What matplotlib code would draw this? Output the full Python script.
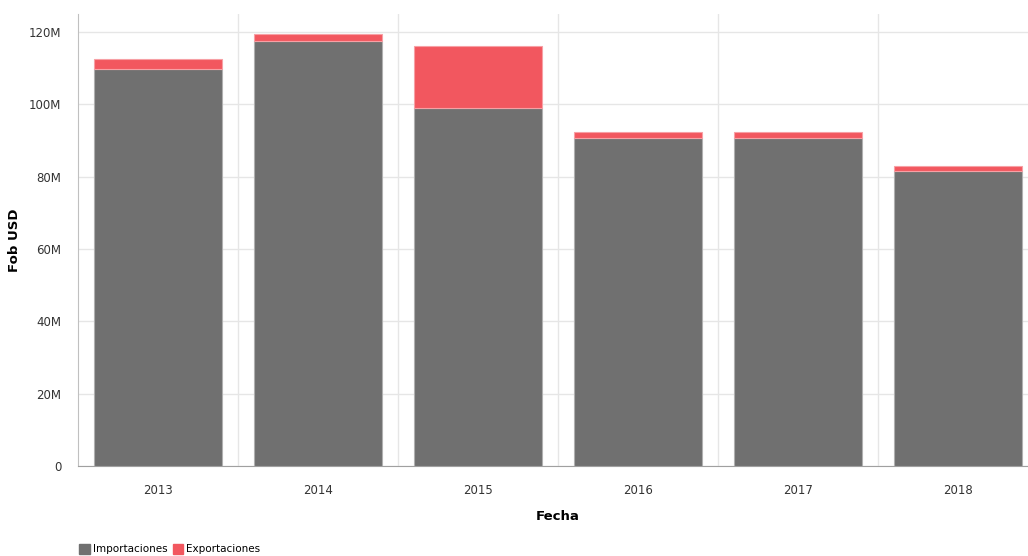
import matplotlib
matplotlib.use("Agg")
import matplotlib.pyplot as plt
from matplotlib.patches import Patch
from matplotlib.ticker import FuncFormatter

# datos (millones USD)
years = ["2013", "2014", "2015", "2016", "2017", "2018"]
importaciones = [109.8, 117.4, 99.1, 90.8, 90.8, 81.5]
exportaciones = [2.6, 2.1, 16.9, 1.6, 1.6, 1.4]

gray = "#707070"
red = "#f2575f"

fig = plt.figure(figsize=(10.28, 5.56), dpi=100)
# el area del grafico sigue un poco mas alla del borde derecho, como en el original
ax = fig.add_axes([0.0759, 0.162, 0.934, 0.813])

x = range(len(years))
ax.bar(x, importaciones, width=0.8, color=gray, edgecolor="#b0b0b0", linewidth=0.8, zorder=3)
ax.bar(x, exportaciones, width=0.8, bottom=importaciones, color=red,
       edgecolor="#f7a0a5", linewidth=0.8, zorder=3)

ax.set_xlim(-0.5, len(years) - 0.5)
ax.set_ylim(0, 125)
ax.set_yticks([0, 20, 40, 60, 80, 100, 120])
ax.yaxis.set_major_formatter(FuncFormatter(lambda v, p: "0" if v == 0 else f"{int(v)}M"))
ax.set_xticks(list(x))
ax.set_xticklabels(years)

# lineas verticales entre categorias
ax.set_xticks([i + 0.5 for i in range(len(years) - 1)], minor=True)
ax.grid(axis="x", which="minor", color="#e6e6e6", linewidth=1, zorder=0)
ax.grid(axis="y", which="major", color="#e6e6e6", linewidth=1, zorder=0)
ax.tick_params(axis="both", which="both", length=0, labelsize=8.5, colors="#333333")
ax.tick_params(axis="x", pad=13)
ax.tick_params(axis="y", pad=12)

for s in ["top", "right"]:
    ax.spines[s].set_visible(False)
ax.spines["left"].set_color("#c0c0c0")
ax.spines["bottom"].set_color("#a0a0a0")

ax.set_xlabel("Fecha", fontsize=9.5, fontweight="bold")
ax.set_ylabel("Fob USD", fontsize=9.5, fontweight="bold")
ax.xaxis.set_label_coords(0.5, -0.098)
ax.yaxis.set_label_coords(-0.059, 0.5)

handles = [Patch(color=gray, label="Importaciones"), Patch(color=red, label="Exportaciones")]
fig.legend(handles=handles, loc="lower left", bbox_to_anchor=(0.068, -0.014), ncol=2,
           frameon=False, fontsize=7.5, handlelength=1.0, handleheight=1.0,
           handletextpad=0.3, columnspacing=0.5)

fig.savefig("out.png", dpi=100)
